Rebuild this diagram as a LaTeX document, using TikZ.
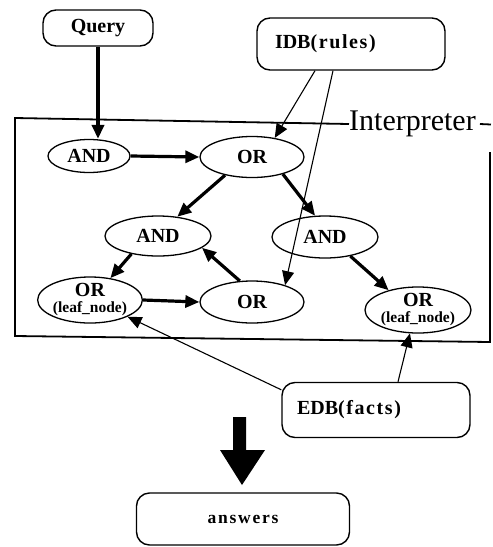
\documentclass[tikz,border=0pt]{standalone}
\usepackage{fontspec}
\setmainfont{Liberation Serif}
\usetikzlibrary{shapes.geometric,arrows.meta}

\tikzset{
  box/.style={draw, line width=1.4pt, rounded corners=13pt, inner sep=0pt,
    font=\fontsize{20}{22}\selectfont\bfseries},
  ell/.style={draw, ellipse, line width=1.3pt, inner sep=0pt,
    font=\fontsize{20}{22}\selectfont\bfseries, align=center},
  tip/.style={-{Triangle[length=14pt,width=12pt]}},
  heavy/.style={tip, line width=3.2pt},
  light/.style={tip, line width=1.1pt},
  frame/.style={line width=1.8pt},
}
\newcommand{\leaflabel}{OR\\[-6pt]{\fontsize{15.5}{16}\selectfont (leaf\_node)}}

\begin{document}
\begin{tikzpicture}[x=1pt,y=-1pt]
\useasboundingbox (0,0) rectangle (493,547);

% input and database boxes
\node[box, minimum width=110pt, minimum height=36pt] (query) at (98,28) {Query};
\node[box, minimum width=188pt, minimum height=52pt, text width=152pt, align=left]
  (idb) at (351,44) {IDB\addfontfeatures{LetterSpace=8}(rules)};
\node[box, minimum width=188pt, minimum height=55pt, text width=158pt, align=left]
  (edb) at (376,410) {EDB\addfontfeatures{LetterSpace=8}(facts)};
\node[box, minimum width=213pt, minimum height=52pt,
  font=\fontsize{17.5}{19}\selectfont\bfseries\addfontfeatures{LetterSpace=10}]
  (answers) at (243,519) {answers};

% interpreter frame
\coordinate (tl) at (15,118);
\coordinate (bl) at (15,336);
\coordinate (br) at (490,342);
\coordinate (tr) at (490,152);
\node[font=\fontsize{30}{32}\selectfont, inner sep=0pt, anchor=west] (interp) at (349,124) {Interpreter};
\draw[frame] (tr) -- (br) -- (bl) -- (tl) -- (interp.west);
\draw[frame] ([xshift=4pt]interp.east) -- ++(11,0.5);

% and/or tree
\node[ell, minimum width=82pt, minimum height=33pt] (and1) at (89,156) {AND};
\node[ell, minimum width=104pt, minimum height=41pt] (or1) at (252,157) {OR};
\node[ell, minimum width=106pt, minimum height=40pt] (and2) at (158,236) {AND};
\node[ell, minimum width=106pt, minimum height=42pt] (and3) at (325,237) {AND};
\node[ell, minimum width=96pt, minimum height=42pt] (leafl) at (90,300) {\leaflabel};
\node[ell, minimum width=104pt, minimum height=42pt] (or2) at (252,302) {OR};
\node[ell, minimum width=106pt, minimum height=42pt] (leafr) at (418,310) {\leaflabel};

% connectors
\draw[heavy, line width=3.8pt] (query.south) -- (query.south |- and1.north);
\draw[heavy] (and1.east) -- (or1.west);
\draw[heavy] (or1.214) -- (and2.45);
\draw[heavy] (or1.331) -- (and3.115);
\draw[heavy] (and2.214) -- (leafl.47);
\draw[heavy] (or2.120) -- (and2.345);
\draw[heavy] (leafl.east) -- (or2.west);
\draw[heavy] (and3.323) -- (leafr.146);
\draw[light] ([xshift=-36pt]idb.south) -- (or1.40);
\draw[light] ([xshift=-18pt]idb.south) -- (or2.27);
\draw[light] ([yshift=-8pt]edb.north west) -- (leafl.336);
\draw[light] ([xshift=22pt]edb.north) -- (leafr.251);

% result arrow
\fill (233,417) -- (246,417) -- (246,450) -- (265,450) -- (242,485)
  -- (220,450) -- (233,450) -- cycle;
\end{tikzpicture}
\end{document}
